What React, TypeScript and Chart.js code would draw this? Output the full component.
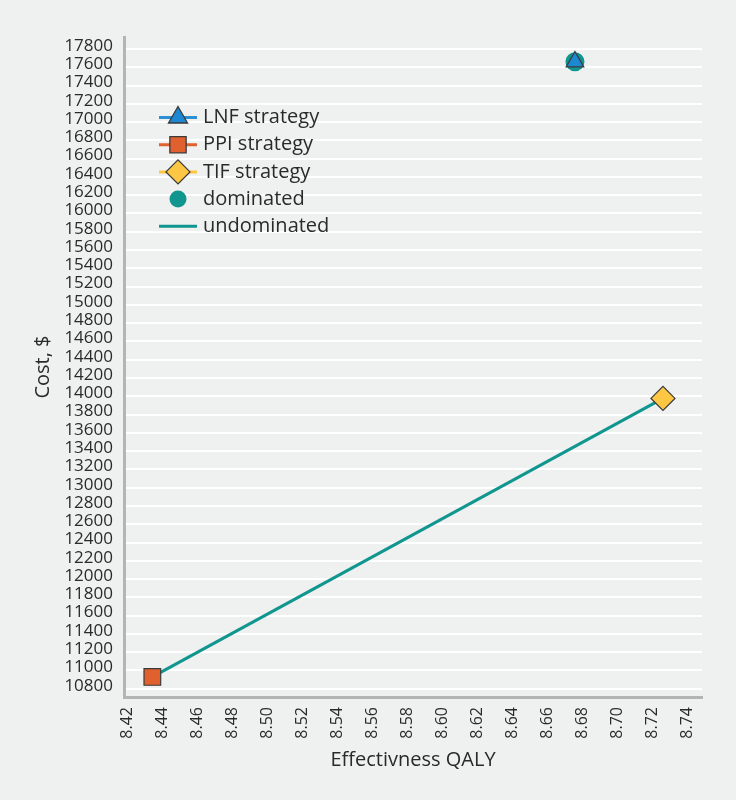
import React, { useEffect, useRef } from "react";
import { Chart, registerables } from "chart.js";

Chart.register(...registerables);

// ---- data ----
const strategyLabels = ["LNF strategy", "PPI strategy", "TIF strategy"];
const strategyEffectiveness = [8.676, 8.4345, 8.7263];
const strategyCost = [17660, 10930, 13977];

const dominatedEffectiveness = [8.676];
const dominatedCost = [17660];

const undominatedEffectiveness = [8.4345, 8.7263];
const undominatedCost = [10930, 13977];

const xTickValues = [8.42, 8.44, 8.46, 8.48, 8.5, 8.52, 8.54, 8.56, 8.58, 8.6, 8.62, 8.64, 8.66, 8.68, 8.7, 8.72, 8.74];
const yTickValues = [
  10800, 11000, 11200, 11400, 11600, 11800, 12000, 12200, 12400, 12600, 12800, 13000,
  13200, 13400, 13600, 13800, 14000, 14200, 14400, 14600, 14800, 15000, 15200, 15400,
  15600, 15800, 16000, 16200, 16400, 16600, 16800, 17000, 17200, 17400, 17600, 17800,
];

const xTitle = "Effectivness QALY";
const yTitle = "Cost, $";

// ---- styles ----
const BG = "#eff0f0";
const TEXT = "#2a2a2a";
const AXIS = "#b3b4b4";
const TEAL = "#10968e";
const BLUE = "#1d87d2";
const BLUE_LINE = "#2b8fd6";
const ORANGE = "#e0612e";
const YELLOW = "#fdc643";
const EDGE = "#3a3a3a";
const FONT = "'Open Sans', sans-serif";

function drawShape(ctx: CanvasRenderingContext2D, style: string, x: number, y: number, r: number) {
  ctx.beginPath();
  if (style === "triangle") {
    let rad = 0;
    ctx.moveTo(x + Math.sin(rad) * r, y - Math.cos(rad) * r);
    rad += (2 * Math.PI) / 3;
    ctx.lineTo(x + Math.sin(rad) * r, y - Math.cos(rad) * r);
    rad += (2 * Math.PI) / 3;
    ctx.lineTo(x + Math.sin(rad) * r, y - Math.cos(rad) * r);
    ctx.closePath();
  } else if (style === "rect") {
    const s = Math.SQRT1_2 * r;
    ctx.rect(x - s, y - s, 2 * s, 2 * s);
  } else if (style === "rectRot") {
    ctx.moveTo(x - r, y);
    ctx.lineTo(x, y - r);
    ctx.lineTo(x + r, y);
    ctx.lineTo(x, y + r);
    ctx.closePath();
  } else {
    ctx.arc(x, y, r, 0, Math.PI * 2);
  }
}

const legendPlugin = {
  id: "insideLegend",
  afterDraw(chart: any) {
    const ctx: CanvasRenderingContext2D = chart.ctx;
    const items: any[] = chart.data.datasets.map((d: any) => d).sort((a: any, b: any) => a.legendIndex - b.legendIndex);
    const x0 = 159;
    const x1 = 197;
    const mx = 178;
    const tx = 203;
    let y = 117.5;
    const step = 27.2;
    ctx.save();
    for (const it of items) {
      if (it.legendLine) {
        ctx.strokeStyle = it.legendLine;
        ctx.lineWidth = 3;
        ctx.beginPath();
        ctx.moveTo(x0, y);
        ctx.lineTo(x1, y);
        ctx.stroke();
      }
      if (it.legendShape) {
        drawShape(ctx, it.legendShape, mx, y, it.legendRadius);
        ctx.fillStyle = it.backgroundColor;
        ctx.fill();
        if (it.pointBorderWidth) {
          ctx.strokeStyle = EDGE;
          ctx.lineWidth = 1.3;
          ctx.stroke();
        }
      }
      ctx.fillStyle = TEXT;
      ctx.font = `20px ${FONT}`;
      ctx.textAlign = "left";
      ctx.textBaseline = "middle";
      ctx.fillText(it.label, tx, y);
      y += step;
    }
    ctx.restore();
  },
};

export default function App() {
  const ref = useRef<HTMLCanvasElement | null>(null);

  useEffect(() => {
    document.body.style.margin = "0";
    document.body.style.background = BG;
    if (!ref.current) return;

    const pt = (xs: number[], ys: number[]) => xs.map((x, i) => ({ x, y: ys[i] }));

    const chart = new Chart(ref.current, {
      type: "scatter",
      data: {
        datasets: [
          {
            label: strategyLabels[0],
            data: pt([strategyEffectiveness[0]], [strategyCost[0]]),
            pointStyle: "triangle",
            pointRadius: 10.2,
            backgroundColor: BLUE,
            borderColor: EDGE,
            pointBorderWidth: 1.2,
            order: 1,
            legendIndex: 0,
            legendLine: BLUE_LINE,
            legendShape: "triangle",
            legendRadius: 11,
          } as any,
          {
            label: strategyLabels[1],
            data: pt([strategyEffectiveness[1]], [strategyCost[1]]),
            pointStyle: "rect",
            pointRadius: 11.8,
            backgroundColor: ORANGE,
            borderColor: EDGE,
            pointBorderWidth: 1.2,
            order: 1,
            legendIndex: 1,
            legendLine: ORANGE,
            legendShape: "rect",
            legendRadius: 11.5,
          } as any,
          {
            label: strategyLabels[2],
            data: pt([strategyEffectiveness[2]], [strategyCost[2]]),
            pointStyle: "rectRot",
            pointRadius: 12,
            backgroundColor: YELLOW,
            borderColor: EDGE,
            pointBorderWidth: 1.2,
            order: 1,
            legendIndex: 2,
            legendLine: YELLOW,
            legendShape: "rectRot",
            legendRadius: 12,
          } as any,
          {
            label: "dominated",
            data: pt(dominatedEffectiveness, dominatedCost),
            pointStyle: "circle",
            pointRadius: 9.5,
            backgroundColor: TEAL,
            borderColor: TEAL,
            pointBorderWidth: 0,
            order: 2,
            legendIndex: 3,
            legendLine: null,
            legendShape: "circle",
            legendRadius: 8.5,
          } as any,
          {
            label: "undominated",
            data: pt(undominatedEffectiveness, undominatedCost),
            showLine: true,
            pointRadius: 0,
            borderColor: TEAL,
            backgroundColor: TEAL,
            borderWidth: 3,
            order: 3,
            legendIndex: 4,
            legendLine: TEAL,
            legendShape: null,
          } as any,
        ],
      },
      options: {
        animation: false,
        responsive: false,
        events: [],
        layout: { padding: { left: 0, top: 37, right: 34, bottom: 24 } },
        plugins: {
          legend: { display: false },
          tooltip: { enabled: false },
        },
        scales: {
          x: {
            type: "linear",
            min: 8.4183,
            max: 8.7486,
            afterBuildTicks: (s: any) => {
              s.ticks = xTickValues.map((v) => ({ value: v }));
            },
            afterFit: (s: any) => {
              s.height = 79;
            },
            grid: { display: false, drawTicks: false },
            border: { display: true, color: AXIS, width: 3 },
            ticks: {
              autoSkip: false,
              minRotation: 90,
              maxRotation: 90,
              padding: 10,
              color: TEXT,
              font: { family: FONT, size: 16 },
              callback: (v: any) => Number(v).toFixed(2),
            },
            title: {
              display: true,
              text: xTitle,
              color: TEXT,
              font: { family: FONT, size: 20 },
              padding: { top: 4, bottom: 4 },
            },
          },
          y: {
            type: "linear",
            min: 10710,
            max: 17931,
            afterBuildTicks: (s: any) => {
              s.ticks = yTickValues.map((v) => ({ value: v }));
            },
            afterFit: (s: any) => {
              s.width = 124;
            },
            grid: { color: "#ffffff", lineWidth: 2, drawTicks: false },
            border: { display: true, color: AXIS, width: 3 },
            ticks: {
              autoSkip: false,
              padding: 11,
              labelOffset: -3,
              color: TEXT,
              font: { family: FONT, size: 17 },
              callback: (v: any) => String(v),
            },
            title: {
              display: true,
              text: yTitle,
              color: TEXT,
              font: { family: FONT, size: 20 },
              padding: { top: 31, bottom: 0 },
            },
          },
        },
      },
      plugins: [legendPlugin],
    });

    return () => chart.destroy();
  }, []);

  return (
    <div style={{ width: 736, height: 800, background: BG }}>
      <canvas ref={ref} width={736} height={800} style={{ display: "block" }} />
    </div>
  );
}
